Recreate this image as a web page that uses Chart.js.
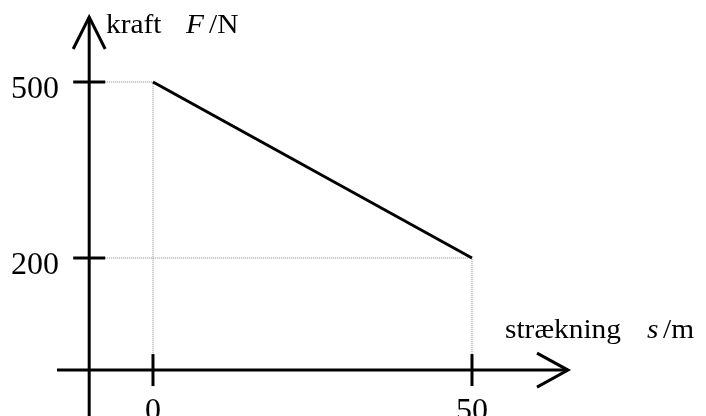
<!DOCTYPE html>
<html>
<head>
<meta charset="utf-8">
<script src="https://cdn.jsdelivr.net/npm/chart.js@4.4.0/dist/chart.umd.min.js"></script>
<style>
  html, body { margin: 0; padding: 0; background: #fff; }
  canvas { display: block; }
</style>
</head>
<body>
<canvas id="myChart" width="706" height="416"></canvas>
<script>
// Data
const strekning = [0, 50];      // s / m
const kraft = [500, 200];       // F / N
const xTicks = [0, 50];
const yTicks = [200, 500];

// where the drawn axes cross (in data units)
const axisAtX = -10;
const axisAtY = 9;

const points = strekning.map((s, i) => ({ x: s, y: kraft[i] }));

// dotted guide lines from each point to the axes
const guides = [];
points.forEach(p => {
  guides.push({
    data: [{ x: axisAtX, y: p.y }, { x: p.x, y: p.y }, { x: p.x, y: axisAtY }],
    borderColor: '#888',
    borderWidth: 1,
    borderDash: [1, 1],
    pointRadius: 0,
    fill: false,
    order: 2
  });
});

const serif = '"Liberation Serif", "Times New Roman", serif';

// small helper, text slightly stretched like the original
function txt(ctx, s, x, y, font, align, sx) {
  ctx.save();
  ctx.font = font;
  ctx.textAlign = align;
  ctx.textBaseline = 'alphabetic';
  ctx.translate(x, y);
  ctx.scale(sx, 1);
  ctx.fillText(s, 0, 0);
  ctx.restore();
}

// Plugin that draws the arrow axes, ticks and labels
const axesPlugin = {
  id: 'arrowAxes',
  afterDatasetsDraw(chart) {
    const ctx = chart.ctx;
    const xs = chart.scales.x;
    const ys = chart.scales.y;
    const ox = xs.getPixelForValue(axisAtX);
    const oy = ys.getPixelForValue(axisAtY);

    ctx.save();
    ctx.strokeStyle = '#000';
    ctx.fillStyle = '#000';
    ctx.lineWidth = 3;
    ctx.lineCap = 'butt';

    // y axis with arrow
    ctx.beginPath();
    ctx.moveTo(ox, chart.height);
    ctx.lineTo(ox, 17);
    ctx.stroke();
    ctx.beginPath();
    ctx.moveTo(ox - 16, 49);
    ctx.lineTo(ox, 17);
    ctx.lineTo(ox + 16, 49);
    ctx.stroke();

    // x axis with arrow
    ctx.beginPath();
    ctx.moveTo(57, oy);
    ctx.lineTo(568, oy);
    ctx.stroke();
    ctx.beginPath();
    ctx.moveTo(537, oy - 17);
    ctx.lineTo(568, oy);
    ctx.lineTo(537, oy + 17);
    ctx.stroke();

    // ticks + tick labels
    const numFont = '32px ' + serif;
    yTicks.forEach(v => {
      const py = ys.getPixelForValue(v);
      ctx.beginPath();
      ctx.moveTo(ox - 16, py);
      ctx.lineTo(ox + 16, py);
      ctx.stroke();
      txt(ctx, String(v), 59, py + 16, numFont, 'right', 1.0);
    });
    xTicks.forEach(v => {
      const px = xs.getPixelForValue(v);
      ctx.beginPath();
      ctx.moveTo(px, oy - 16);
      ctx.lineTo(px, oy + 16);
      ctx.stroke();
      txt(ctx, String(v), px, oy + 50, numFont, 'center', 1.0);
    });

    // axis titles
    const f = '28px ' + serif;
    const fi = 'italic 28px ' + serif;
    txt(ctx, 'kraft', 106, 33, f, 'left', 1.05);
    txt(ctx, 'F', 186, 33, fi, 'left', 1.05);
    txt(ctx, '/N', 209, 33, f, 'left', 1.05);

    txt(ctx, 'strækning', 505, 338, f, 'left', 1.05);
    txt(ctx, 's', 647, 338, fi, 'left', 1.05);
    txt(ctx, '/m', 663, 338, f, 'left', 1.05);
    ctx.restore();
  }
};

const ctx = document.getElementById('myChart');
const myChart = new Chart(ctx, {
  type: 'line',
  data: {
    datasets: [
      {
        label: 'F',
        data: points,
        borderColor: '#000',
        borderWidth: 3,
        pointRadius: 0,
        fill: false,
        order: 1
      },
      ...guides
    ]
  },
  options: {
    responsive: false,
    animation: false,
    layout: { padding: 0 },
    plugins: {
      legend: { display: false },
      tooltip: { enabled: false }
    },
    scales: {
      x: { type: 'linear', display: false, min: -23.98, max: 86.68 },
      y: { type: 'linear', display: false, min: -69.3, max: 639.8 }
    }
  },
  plugins: [axesPlugin]
});
</script>
</body>
</html>
